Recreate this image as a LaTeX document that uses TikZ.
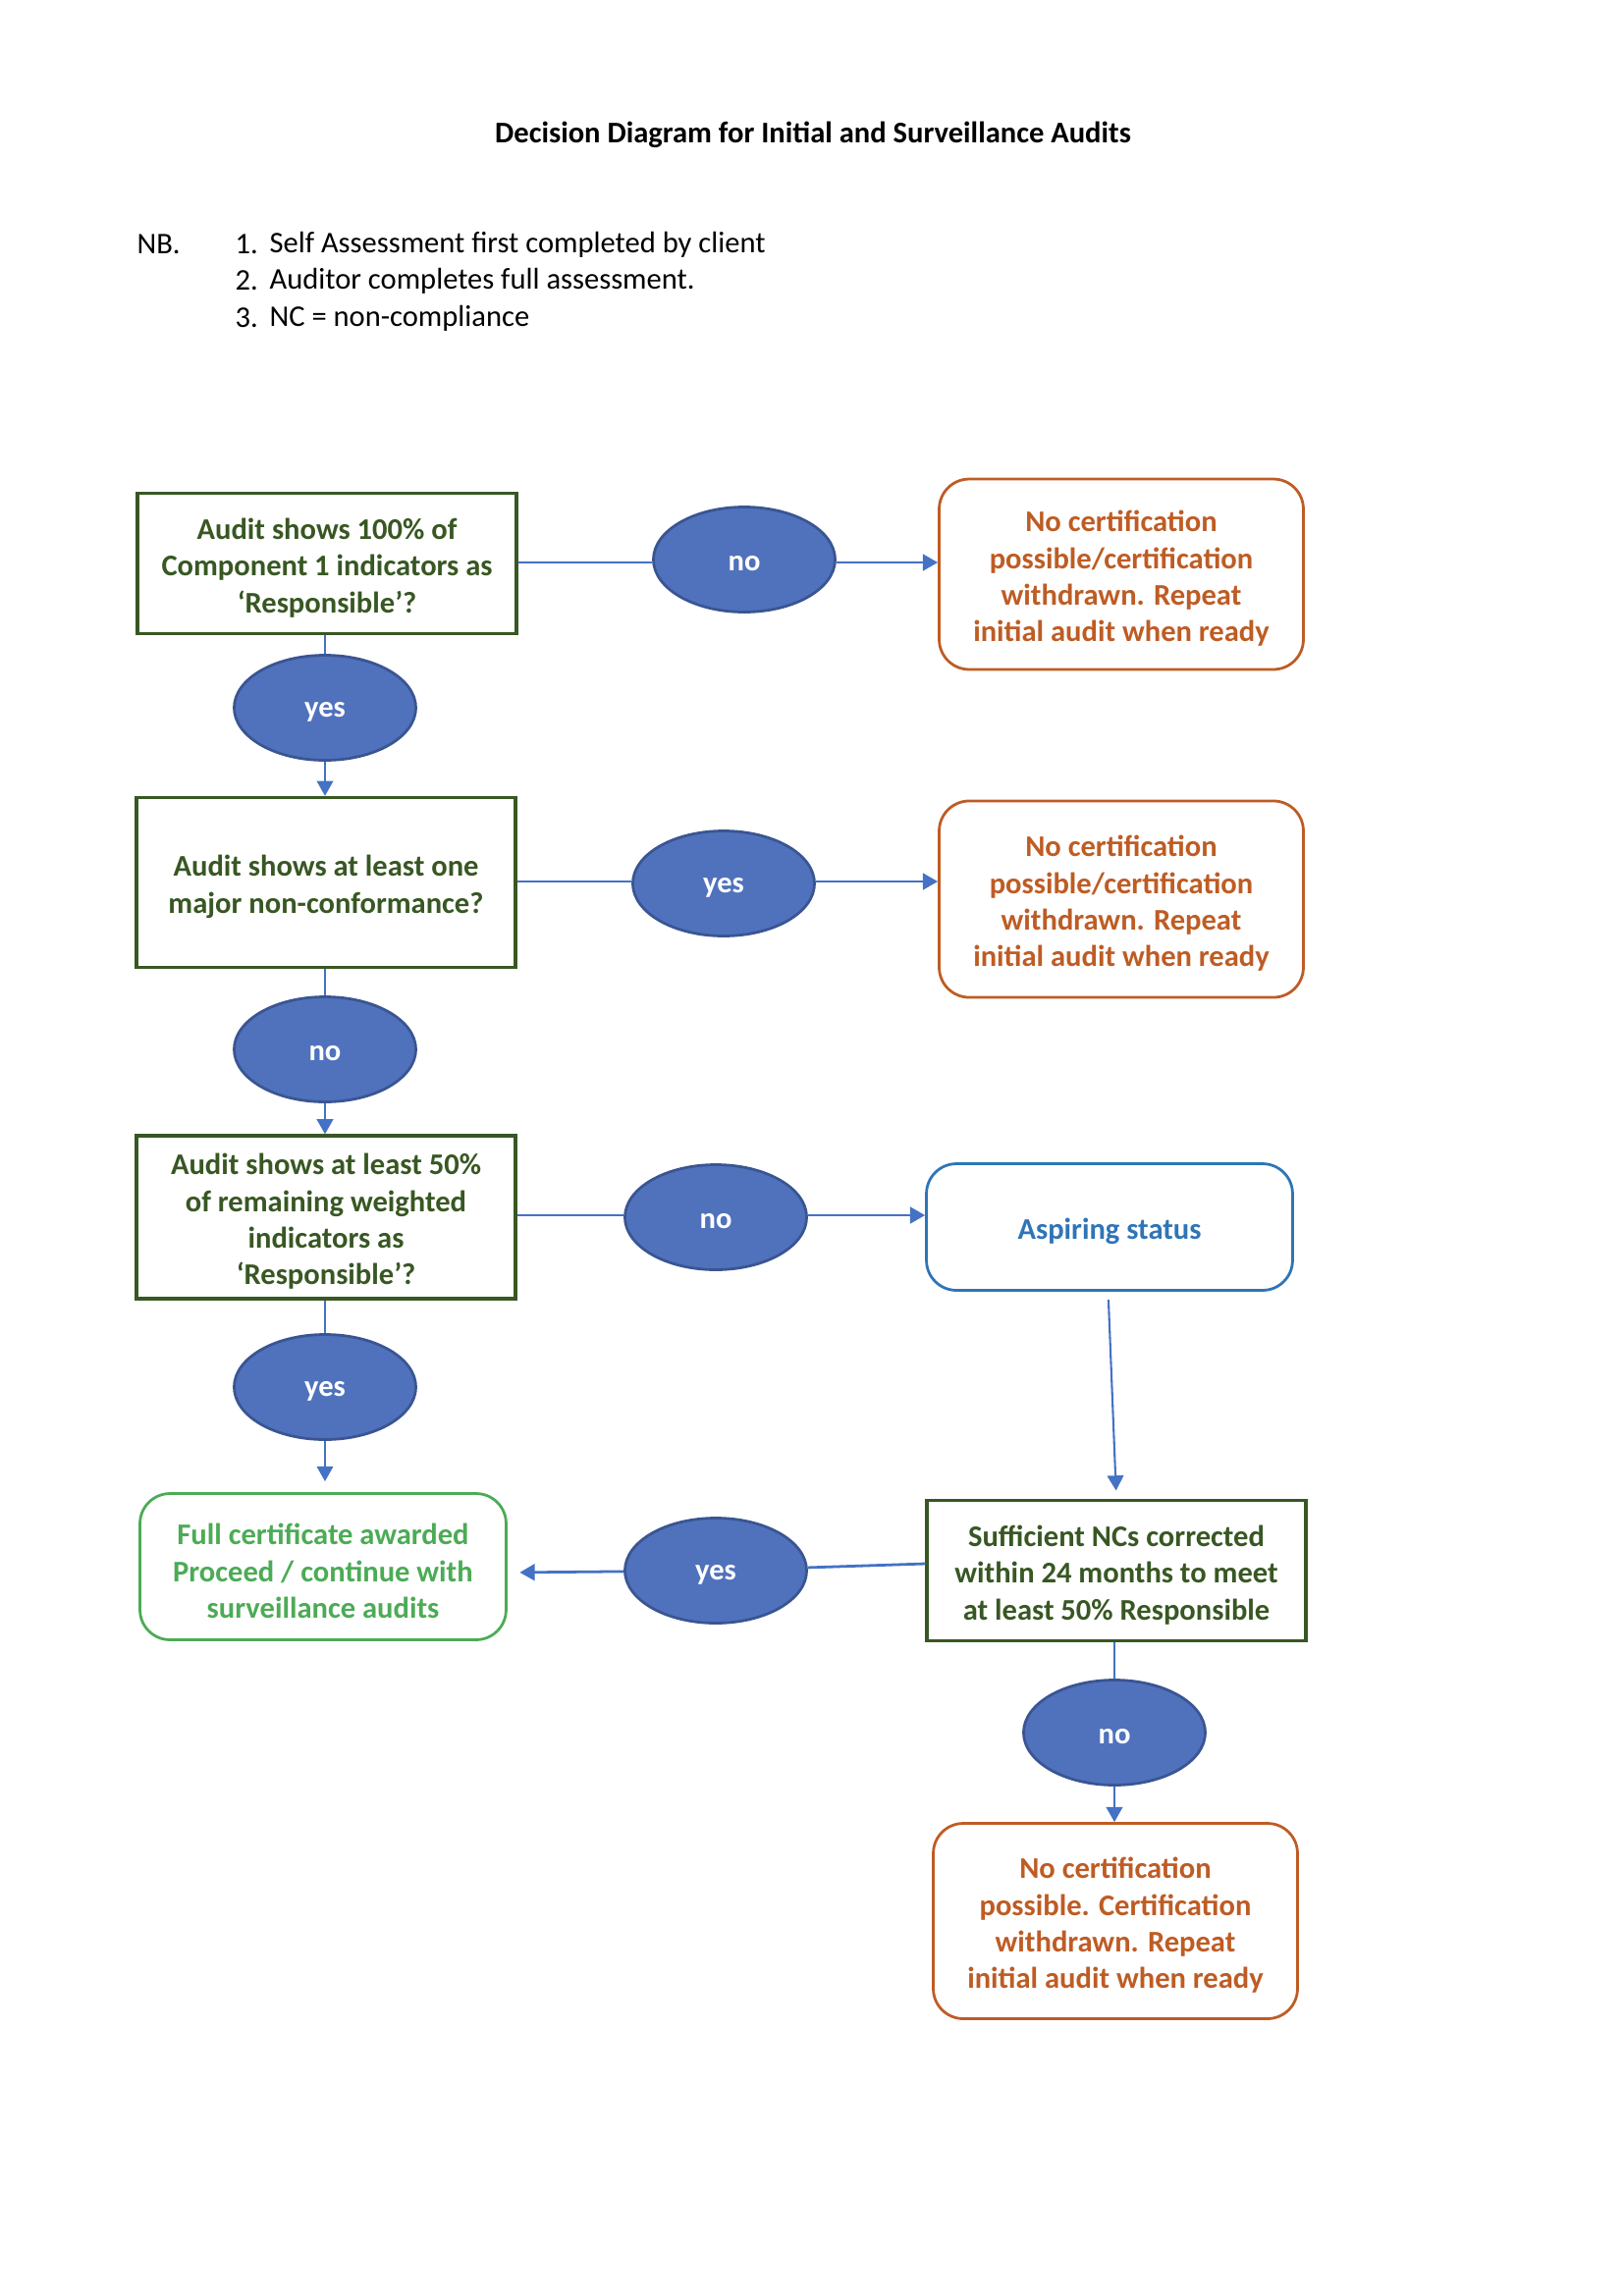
\documentclass[tikz,border=0pt]{standalone}
\usepackage{fontspec}
\setmainfont{Carlito}
\usetikzlibrary{arrows.meta,shapes.geometric}
\definecolor{dkgreen}{HTML}{385723}
\definecolor{orng}{HTML}{BE5C24}
\definecolor{ltgreen}{HTML}{4CAB55}
\definecolor{accblue}{HTML}{5072BD}
\definecolor{accblueb}{HTML}{3A5592}
\definecolor{connblue}{HTML}{4472C4}
\definecolor{aspblue}{HTML}{2E75B6}
\tikzset{
  txt/.style={font=\fontsize{11}{13.4}\selectfont\bfseries, align=center, inner sep=0pt},
  shp/.style={inner sep=0pt},
  qbox/.style={shp, draw=dkgreen, line width=1.2pt, minimum width=138.9pt},
  obox/.style={shp, draw=orng, line width=1pt, rounded corners=11pt, minimum width=133.5pt},
  gbox/.style={shp, draw=ltgreen, line width=1pt, rounded corners=11pt, minimum width=134.2pt},
  abox/.style={shp, draw=aspblue, line width=1pt, rounded corners=11pt, minimum width=134.2pt},
  oval/.style={shp, ellipse, fill=accblue, draw=accblueb, line width=1pt, minimum width=66.6pt, minimum height=38.5pt},
  qtxt/.style={txt, text=dkgreen},
  otxt/.style={txt, text=orng},
  gtxt/.style={txt, text=ltgreen},
  atxt/.style={txt, text=aspblue},
  wtxt/.style={txt, text=white},
  hconn/.style={draw=connblue, line width=1pt},
  vconn/.style={draw=connblue, line width=0.75pt},
  tip/.style={-{Triangle[length=5.5pt,width=6pt]}},
  plain/.style={font=\fontsize{11}{13.4}\selectfont, inner sep=0pt, anchor=west}
}
\newcommand{\dn}{-1.6pt}
\begin{document}
\begin{tikzpicture}[x=0.35989pt,y=-0.35989pt]
\useasboundingbox (0,0) rectangle (1654,2339);
% title and notes
\node[txt] (title) at (828,137) {Decision Diagram for Initial and Surveillance Audits};
\node[plain] (nb) at (139,249) {NB.};
\node[plain] (n1a) at (239,249) {1.};
\node[plain] (n1b) at (274,249) {Self Assessment first completed by client};
\node[plain] (n2a) at (239,286) {2.};
\node[plain] (n2b) at (274,286) {Auditor completes full assessment.};
\node[plain] (n3a) at (239,324) {3.};
\node[plain] (n3b) at (274,324) {NC = non-compliance};
% left column
\node[qbox, minimum height=51.5pt] (b1) at (333,574) {};
\node[oval] (y1) at (331,721) {};
\node[qbox, minimum height=62.3pt] (b2) at (332,899) {};
\node[oval] (no2) at (331,1069) {};
\node[qbox, minimum height=59.7pt] (b3) at (332,1240) {};
\node[oval] (y3) at (331,1413) {};
\node[gbox, minimum height=53.6pt] (g) at (329,1596) {};
% middle ovals
\node[oval] (no1) at (758,570) {};
\node[oval] (y2) at (737,900) {};
\node[oval] (no3) at (729,1240) {};
\node[oval] (y4) at (729,1600) {};
% right column
\node[obox, minimum height=69.8pt] (o1) at (1142,585) {};
\node[obox, minimum height=72pt] (o2) at (1142,916) {};
\node[abox, minimum height=46.4pt] (asp) at (1130,1250) {};
\node[qbox, minimum height=51.5pt] (b4) at (1137,1600) {};
\node[oval] (no4) at (1135,1765) {};
\node[obox, minimum height=71.6pt] (o3) at (1136,1957) {};
% texts
\node[qtxt] (b1t) at ([yshift=\dn]b1.center) {Audit shows 100\% of\\Component 1 indicators as\\‘Responsible’?};
\node[qtxt] (b2t) at ([yshift=\dn]b2.center) {Audit shows at least one\\major non-conformance?};
\node[qtxt] (b3t) at ([yshift=\dn]b3.center) {Audit shows at least 50\%\\of remaining weighted\\indicators as\\‘Responsible’?};
\node[qtxt] (b4t) at ([yshift=\dn]b4.center) {Sufficient NCs corrected\\within 24 months to meet\\at least 50\% Responsible};
\node[gtxt] (gt) at ([yshift=\dn]g.center) {Full certificate awarded\\Proceed / continue with\\surveillance audits};
\node[otxt] (o1t) at ([yshift=\dn]o1.center) {No certification\\possible/certification\\withdrawn. Repeat\\initial audit when ready};
\node[otxt] (o2t) at ([yshift=\dn]o2.center) {No certification\\possible/certification\\withdrawn. Repeat\\initial audit when ready};
\node[otxt] (o3t) at ([yshift=\dn]o3.center) {No certification\\possible. Certification\\withdrawn. Repeat\\initial audit when ready};
\node[atxt] (aspt) at ([yshift=\dn]asp.center) {Aspiring status};
\node[wtxt] (y1t) at ([yshift=\dn]y1.center) {yes};
\node[wtxt] (no2t) at ([yshift=\dn]no2.center) {no};
\node[wtxt] (y3t) at ([yshift=\dn]y3.center) {yes};
\node[wtxt] (no1t) at ([yshift=\dn]no1.center) {no};
\node[wtxt] (y2t) at ([yshift=\dn]y2.center) {yes};
\node[wtxt] (no3t) at ([yshift=\dn]no3.center) {no};
\node[wtxt] (y4t) at ([yshift=\dn]y4.center) {yes};
\node[wtxt] (no4t) at ([yshift=\dn]no4.center) {no};
% connectors
\draw[hconn] (b1.east |- 0,573) -- (no1.west |- 0,573);
\draw[hconn,tip] (no1.east |- 0,573) -- (o1.west |- 0,573);
\draw[vconn] (b1.south -| y1) -- (y1);
\draw[vconn,tip] (y1) -- (b2.north -| y1);
\draw[hconn] (b2.east |- 0,898) -- (y2.west |- 0,898);
\draw[hconn,tip] (y2.east |- 0,898) -- (o2.west |- 0,898);
\draw[vconn] (b2.south -| no2) -- (no2);
\draw[vconn,tip] (no2) -- (b3.north -| no2);
\draw[hconn] (b3.east |- 0,1238) -- (no3.west |- 0,1238);
\draw[hconn,tip] (no3.east |- 0,1238) -- (asp.west |- 0,1238);
\draw[vconn] (b3.south -| y3) -- (y3);
\draw[vconn,tip,shorten >=4pt] (y3) -- (g.north -| y3);
\draw[vconn,tip,shorten <=3pt,shorten >=3pt] ([xshift=-0.5pt]asp.south) -- (b4.north);
\draw[hconn] (b4.west |- 0,1593) -- (y4);
\draw[hconn,tip,shorten >=4.5pt] (y4) -- (g.east |- 0,1602);
\draw[vconn] (b4.south -| no4) -- (no4);
\draw[vconn,tip] (no4) -- (o3.north -| no4);
\end{tikzpicture}
\end{document}
